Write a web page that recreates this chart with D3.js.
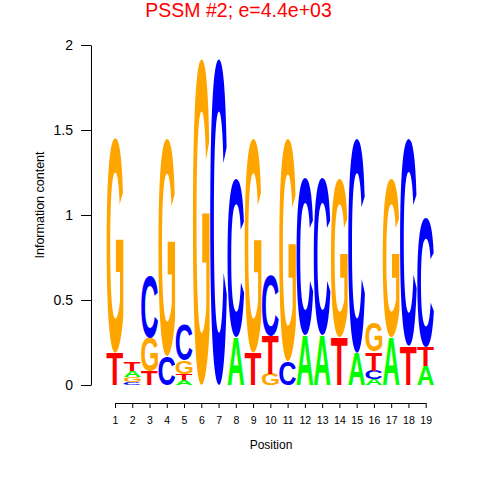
<!DOCTYPE html>
<html><head><meta charset="utf-8">
<script src="https://cdn.jsdelivr.net/npm/d3@7"></script>
<style>body{margin:0;background:#fff}svg{display:block}</style>
</head><body>
<script>
const positions = d3.range(1, 20);
const letters = ["A","C","G","T"];
const valA = [0,    0.04, 0,    0,    0.03, 0,    0,    0.28, 0,    0,    0,    0.29, 0.29, 0,    0.19, 0.035,0.28, 0,    0.11];
const valC = [0,    0.015,0.36, 0.17, 0.21, 0,    1.92, 0.93, 0,    0.355,0.14, 0.92, 0.92, 0,    1.26, 0.05, 0,    1.22, 0.76];
const valG = [1.265,0.03, 0.2,  1.28, 0.08, 1.92, 0,    0,    1.26, 0.065,1.31, 0,    0,    0.93, 0,    0.17, 0.93, 0,    0];
const valT = [0.19, 0.05, 0.08, 0,    0.035,0,    0,    0,    0.19, 0.225,0,    0,    0,    0.28, 0,    0.11, 0,    0.23, 0.115];
const yTicks = [0, 0.5, 1, 1.5, 2];
const colors = {A:"#00ff00", C:"#0000ff", G:"#ffa500", T:"#ff0000"};
const title = "PSSM #2; e=4.4e+03";

const W = 480, H = 480;
const svg = d3.select("body").append("svg").attr("width", W).attr("height", H);
const font = "Liberation Sans, Arial, Helvetica, sans-serif";

const x = d3.scaleLinear().domain([1, 19]).range([115, 425.7]);
const y = d3.scaleLinear().domain([0, 2]).range([385, 45]);
const step = x(2) - x(1);

// glyph metrics
const ctx = document.createElement("canvas").getContext("2d");
ctx.font = "bold 100px 'Liberation Sans'";
const metrics = {};
letters.forEach(l => { metrics[l] = ctx.measureText(l); });

const vals = {A: valA, C: valC, G: valG, T: valT};
const logo = svg.append("g");
positions.forEach((p, i) => {
  const col = letters.map(l => ({l, v: vals[l][i]})).filter(d => d.v > 0).sort((a, b) => a.v - b.v);
  let cum = 0;
  col.forEach(d => {
    const y0 = y(cum + d.v), y1 = y(cum);
    cum += d.v;
    const m = metrics[d.l];
    const gw = m.actualBoundingBoxLeft + m.actualBoundingBoxRight;
    const gh = m.actualBoundingBoxAscent + m.actualBoundingBoxDescent;
    const w = step * 0.97, h = y1 - y0;
    const x0 = x(p) - w / 2;
    logo.append("text")
      .attr("font-family", font).attr("font-weight", "bold").attr("font-size", 100)
      .attr("fill", colors[d.l])
      .attr("transform", `translate(${x0},${y0}) scale(${w/gw},${h/gh}) translate(${m.actualBoundingBoxLeft},${m.actualBoundingBoxAscent})`)
      .text(d.l);
  });
});

// y axis
const ya = svg.append("g").attr("transform", "translate(91,0)")
  .call(d3.axisLeft(y).tickValues(yTicks).tickFormat(d3.format("")).tickSize(10).tickSizeOuter(0));
ya.select(".domain").attr("stroke", "#000");
ya.selectAll("text").attr("font-family", font).attr("font-size", 14).attr("fill", "#000").attr("x", -18);

// x axis
const xa = svg.append("g").attr("transform", "translate(0,403)")
  .call(d3.axisBottom(x).tickValues(positions).tickFormat(d3.format("d")).tickSize(5).tickSizeOuter(0));
xa.select(".domain").attr("stroke", "#000");
xa.selectAll("text").attr("font-family", font).attr("font-size", 10.5).attr("fill", "#000").attr("y", 14);

svg.append("text").attr("x", 271).attr("y", 449).attr("text-anchor", "middle")
  .attr("font-family", font).attr("font-size", 12).text("Position");
svg.append("text").attr("transform", "translate(44,205) rotate(-90)").attr("text-anchor", "middle")
  .attr("font-family", font).attr("font-size", 12.5).text("Information content");
svg.append("text").attr("x", 238.5).attr("y", 17).attr("text-anchor", "middle")
  .attr("font-family", font).attr("font-size", 19.5).attr("fill", "#ff0000").text(title);
</script>
</body></html>
